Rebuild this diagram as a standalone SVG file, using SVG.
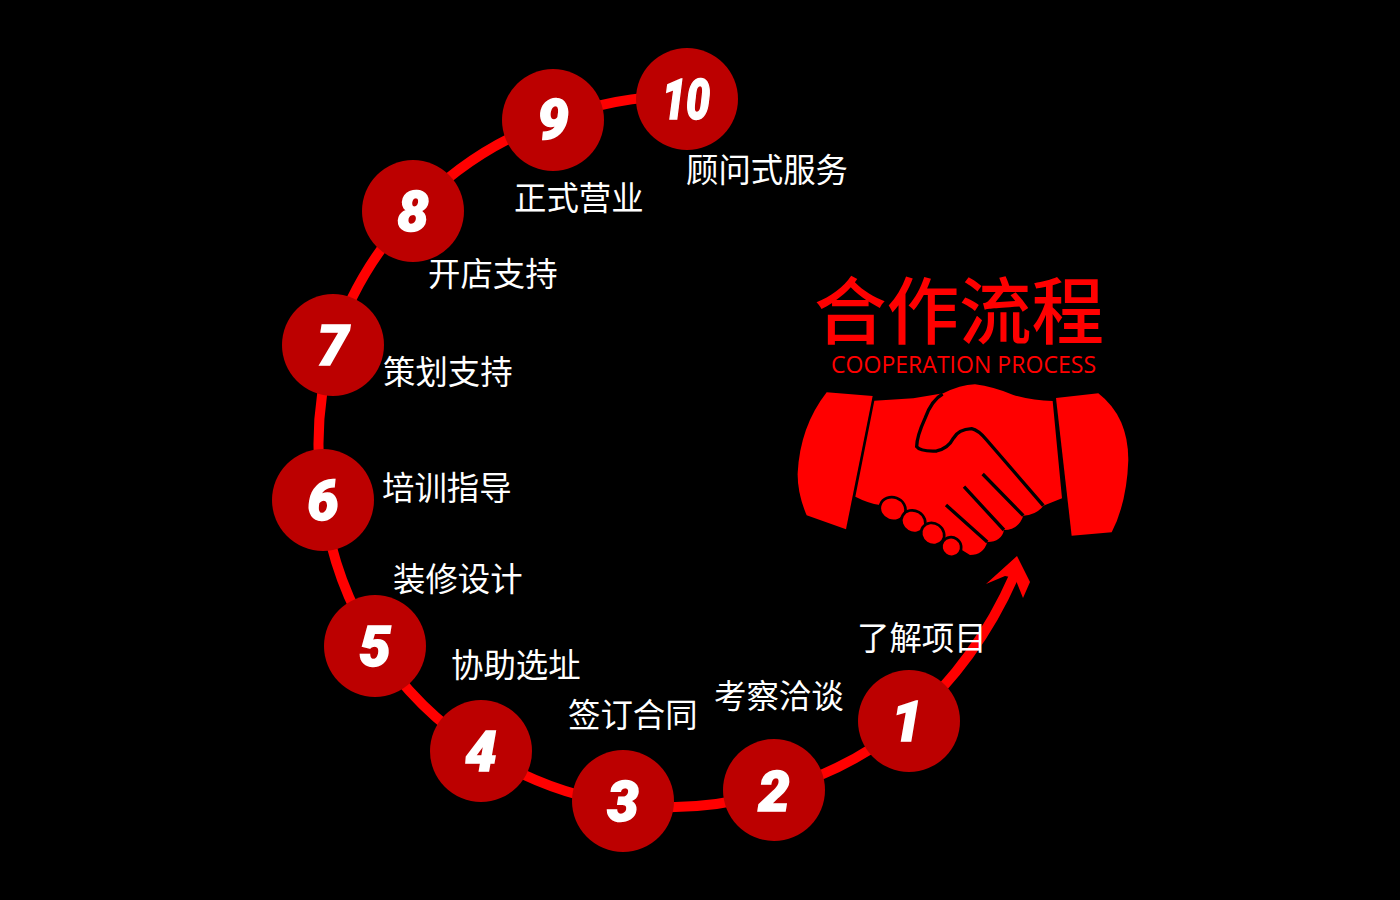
<svg xmlns="http://www.w3.org/2000/svg" width="1400" height="900" viewBox="0 0 1400 900">
<style>
.c{fill:#bc0000}
.n{font:italic 900 56px Roboto,"Liberation Sans",sans-serif;fill:#fff;stroke:#fff;stroke-width:1.5;text-anchor:middle}
.l{font:400 32.4px "Noto Sans CJK SC",sans-serif;fill:#fff}
.f{fill:#f00;stroke:#000;stroke-width:8}
</style>
<rect width="1400" height="900" fill="#000"/>
<g id="connectors">
<path d="M1014,576 A420,420 0 0 1 909,721 A350,350 0 0 1 774,791 A350,350 0 0 1 623,804 A350,350 0 0 1 481,751 A350,350 0 0 1 375,646 A350,350 0 0 1 323,500 A350,350 0 0 1 333,345 A350,350 0 0 1 413,211 A350,350 0 0 1 553,120 A350,350 0 0 1 687,96" fill="none" stroke="#f00" stroke-width="10"/>
<polygon points="986,584 1017,556 1030,582 1023,598 1015,578 1005,576" fill="#f00"/>
</g>
<g id="node-1"><circle class="c" cx="909" cy="721" r="51"/><text class="n" x="907" y="741">1</text></g>
<g id="node-2"><circle class="c" cx="774" cy="790" r="51"/><text class="n" x="774" y="811">2</text></g>
<g id="node-3"><circle class="c" cx="623" cy="801" r="51"/><text class="n" x="623" y="821">3</text></g>
<g id="node-4"><circle class="c" cx="481" cy="751" r="51"/><text class="n" x="481" y="771">4</text></g>
<g id="node-5"><circle class="c" cx="375" cy="646" r="51"/><text class="n" x="375" y="666">5</text></g>
<g id="node-6"><circle class="c" cx="323" cy="500" r="51"/><text class="n" x="323" y="520">6</text></g>
<g id="node-7"><circle class="c" cx="333" cy="345" r="51"/><text class="n" x="333" y="365">7</text></g>
<g id="node-8"><circle class="c" cx="413" cy="211" r="51"/><text class="n" x="413" y="231">8</text></g>
<g id="node-9"><circle class="c" cx="553" cy="120" r="51"/><text class="n" x="553" y="139">9</text></g>
<g id="node-10"><circle class="c" cx="687" cy="99" r="51"/><text class="n" x="686" y="119" textLength="48" lengthAdjust="spacingAndGlyphs">10</text></g>
<g id="labels">
<text class="l" x="857" y="650">了解项目</text>
<text class="l" x="714" y="708">考察洽谈</text>
<text class="l" x="568" y="727">签订合同</text>
<text class="l" x="451" y="677">协助选址</text>
<text class="l" x="393" y="591">装修设计</text>
<text class="l" x="382" y="500">培训指导</text>
<text class="l" x="383" y="384">策划支持</text>
<text class="l" x="428" y="286">开店支持</text>
<text class="l" x="514" y="210">正式营业</text>
<text class="l" x="686" y="182">顾问式服务</text>
</g>
<g id="title">
<text x="814" y="338" font-family="Noto Sans CJK SC,sans-serif" font-size="72.5" font-weight="500" fill="#f00">合作流程</text>
<text x="831" y="373" font-family="Open Sans,sans-serif" font-size="23" fill="#f00" textLength="265">COOPERATION PROCESS</text>
</g>
<g id="handshake" transform="translate(780,370) scale(.33333)">
<path d="M140,67 L278,78 L198,478 L80,436 Q52,370 53,310 Q60,170 140,67Z" fill="#f00"/>
<path d="M828,84 L955,70 Q1045,140 1045,270 Q1040,400 995,487 L875,497Z" fill="#f00"/>
<path d="M283,92 L400,85 L490,70 Q540,45 585,43 Q640,50 700,75 Q760,92 818,93 L846,385 L790,407 Q770,435 730,437 Q715,480 672,480 Q665,515 622,516 Q610,555 570,555 L530,530 L300,405 Q265,400 226,380Z" fill="#f00"/>
<ellipse class="f" cx="338" cy="417" rx="39" ry="35" transform="rotate(20 338 417)"/>
<ellipse class="f" cx="400" cy="455" rx="37" ry="33" transform="rotate(30 400 455)"/>
<ellipse class="f" cx="458" cy="492" rx="36" ry="32" transform="rotate(35 458 492)"/>
<ellipse class="f" cx="514" cy="531" rx="30" ry="29" transform="rotate(35 514 531)"/>
<path d="M488,72 Q455,90 435,145 Q410,200 410,230 Q420,245 470,243 Q505,235 520,205 Q535,178 575,176 Q595,180 620,210 L790,407 M608,312 L730,437 M552,350 L672,480 M498,405 L622,516" fill="none" stroke="#000" stroke-width="10"/>
</g>
</svg>
